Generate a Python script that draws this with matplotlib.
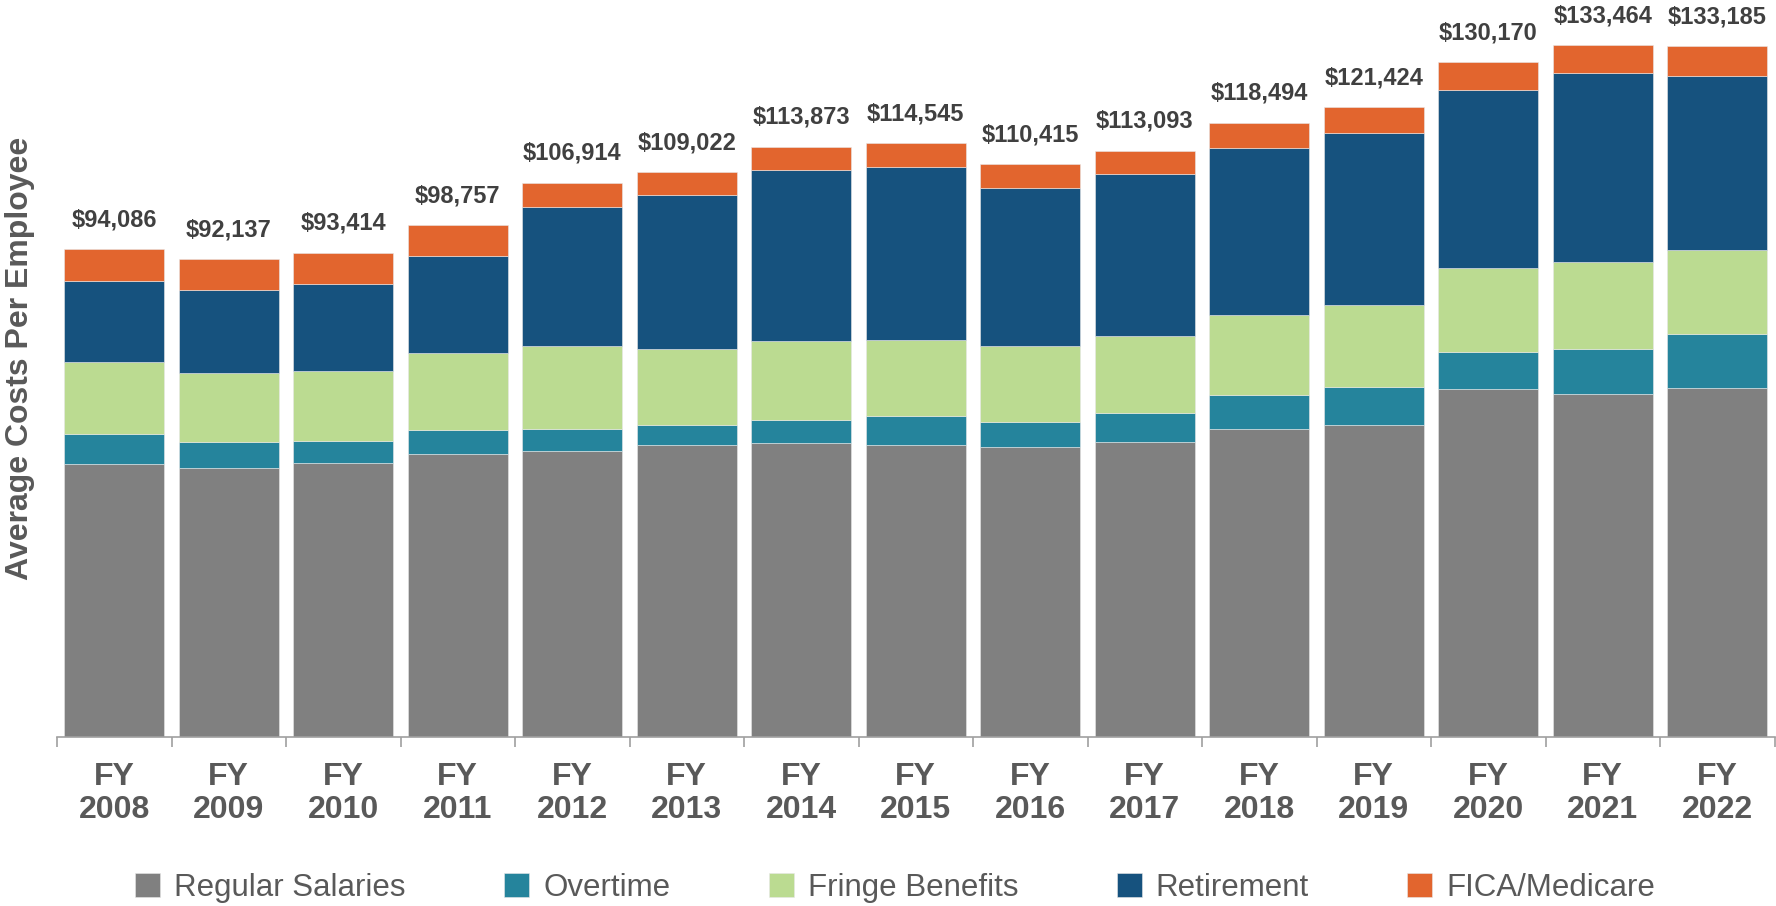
import numpy as np
import matplotlib.pyplot as plt

plt.rcParams['font.family'] = ['Liberation Sans', 'DejaVu Sans']

years = ['2008', '2009', '2010', '2011', '2012', '2013', '2014', '2015',
         '2016', '2017', '2018', '2019', '2020', '2021', '2022']
totals = [94086, 92137, 93414, 98757, 106914, 109022, 113873, 114545,
          110415, 113093, 118494, 121424, 130170, 133464, 133185]

salaries = [52600, 51830, 52855, 54650, 55230, 56330, 56650, 56270,
            55880, 56905, 59470, 60125, 67130, 66165, 67320]
overtime = [5850, 5130, 4245, 4570, 4245, 3915, 4500, 5650,
            4880, 5595, 6500, 7390, 7195, 8620, 10415]
fringe = [13890, 13190, 13500, 14850, 15950, 14545, 15240, 14600,
          14720, 14910, 15370, 15875, 16200, 16780, 16145]
retirement = [15625, 16130, 16780, 18650, 26870, 29820, 32990, 33370,
              30480, 31130, 32270, 33060, 34220, 36460, 33680]
fica = [6115, 5860, 6040, 6040, 4630, 4380, 4500, 4630,
        4510, 4550, 4880, 5015, 5460, 5460, 5670]

series = [('Regular Salaries', salaries, '#808080'),
          ('Overtime', overtime, '#25849c'),
          ('Fringe Benefits', fringe, '#bbdb91'),
          ('Retirement', retirement, '#16527e'),
          ('FICA/Medicare', fica, '#e2652e')]

fig = plt.figure(figsize=(17.76, 9.06), dpi=100)
ax = fig.add_axes([57 / 1776, 169 / 906, 1717.5 / 1776, 707 / 906])

x = np.arange(len(years))
bottom = np.zeros(len(years))
for name, vals, col in series:
    vals = np.array(vals, dtype=float)
    ax.bar(x, vals, 0.873, bottom=bottom, color=col, label=name,
           edgecolor='#e8e8e8', linewidth=0.4)
    bottom += vals

for xi, top, tot in zip(x, bottom, totals):
    ax.annotate('${:,}'.format(tot), (xi, top), xytext=(0, 16.5),
                textcoords='offset points', ha='center', va='baseline',
                fontsize=17, fontweight='bold', color='#404040')

ax.set_xlim(-0.5, len(years) - 0.5)
ax.set_ylim(0, 136380)
ax.set_yticks([])
for s in ['left', 'right', 'top']:
    ax.spines[s].set_visible(False)
ax.spines['bottom'].set_color('#a0a0a0')
ax.spines['bottom'].set_linewidth(1.2)

ax.set_xticks(x)
ax.set_xticklabels(['FY\n' + y for y in years], fontsize=23,
                   fontweight='bold', color='#595959', linespacing=1.15)
ax.tick_params(axis='x', which='major', length=0, pad=18)
ax.set_xticks(np.arange(-0.5, len(years)), minor=True)
ax.tick_params(axis='x', which='minor', length=7, width=1.2, color='#a0a0a0')

fig.text(20 / 1776, 1 - 358 / 906, 'Average Costs Per Employee', rotation=90,
         ha='center', va='center', fontsize=23, fontweight='bold', color='#595959')

leg = fig.legend(loc='center', bbox_to_anchor=(0.504, 18 / 906), ncol=5,
                 frameon=False, fontsize=22.5, handlelength=0.8, handleheight=0.8,
                 handletextpad=0.45, columnspacing=3.15)
for t in leg.get_texts():
    t.set_color('#595959')

fig.savefig('out.png', dpi=100)
